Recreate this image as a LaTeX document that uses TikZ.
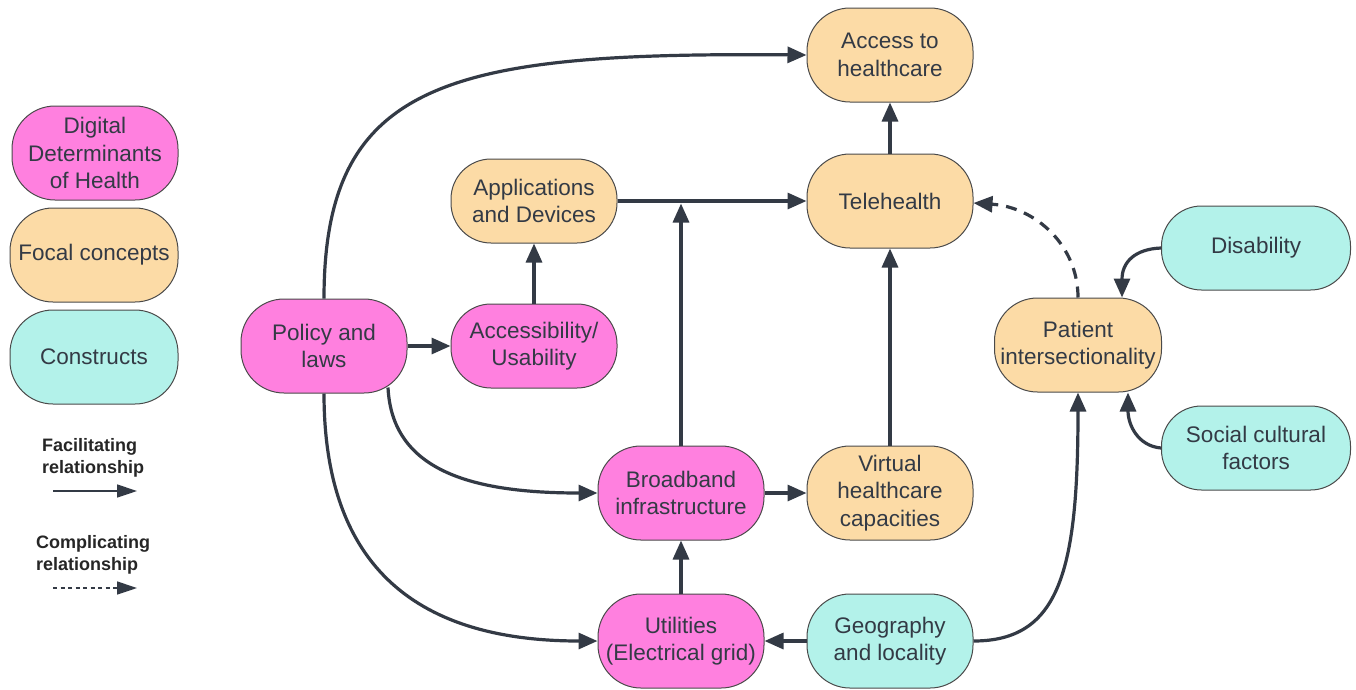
\documentclass[tikz,border=0pt]{standalone}
\usepackage{fontspec}
\setmainfont{Liberation Sans}
\usetikzlibrary{arrows.meta}
\definecolor{pinkf}{HTML}{FF80DF}
\definecolor{orangef}{HTML}{FCDBA6}
\definecolor{tealf}{HTML}{B3F2EA}
\definecolor{edgec}{HTML}{333A45}
\definecolor{txtc}{HTML}{333A45}
\definecolor{bordc}{HTML}{4A4A4A}
\begin{document}
\begin{tikzpicture}[x=1pt,y=-1pt,
  box/.style={draw=bordc, line width=1pt, rounded corners=43pt, minimum width=166pt,
    minimum height=94pt, align=center, text=txtc, inner sep=0pt,
    font=\fontsize{22.5}{27.5}\selectfont},
  lowbox/.style={box, minimum height=84pt, rounded corners=40pt},
  wide/.style={box, minimum width=189pt, minimum height=84pt, rounded corners=40pt},
  ddh/.style={fill=pinkf},
  foc/.style={fill=orangef},
  con/.style={fill=tealf},
  arr/.style={draw=edgec, line width=3.2pt, -{Triangle[length=19pt,width=16pt]}},
  darr/.style={arr, dash pattern=on 11pt off 8pt},
  legarr/.style={draw=edgec, line width=1.5pt, -{Triangle[length=20pt,width=13pt]}},
  legdarr/.style={legarr, dash pattern=on 4pt off 3.5pt},
  legtxt/.style={align=left, font=\bfseries\fontsize{18}{22.5}\selectfont, text=black!85, inner sep=0pt}
]
\fill[white] (0,0) rectangle (1356,689);
\useasboundingbox (0,0) rectangle (1356,689);

% legend
\node[box,ddh] (lddh) at (95,153) {Digital\\Determinants\\of Health};
\node[box,foc, minimum width=168pt] (lfoc) at (94,255) {Focal concepts};
\node[box,con, minimum width=168pt] (lcon) at (94,357) {Constructs};
\node[legtxt, anchor=west] (lfac) at (42,458) {Facilitating\\relationship};
\node[legtxt, anchor=west] (lcom) at (36,555) {Complicating\\relationship};
\coordinate (f1) at (53,491);
\coordinate (f2) at (137,491);
\coordinate (c1) at (53,588);
\coordinate (c2) at (137,588);
\draw[legarr] (f1) -- (f2);
\draw[legdarr] (c1) -- (c2);

% main nodes
\node[box,foc] (acc) at (890,55) {Access to\\healthcare};
\node[lowbox,foc] (app) at (534,201) {Applications\\and Devices};
\node[box,foc] (tel) at (890,201) {Telehealth};
\node[box,ddh] (pol) at (324,346) {Policy and\\laws};
\node[lowbox,ddh] (usa) at (534,346) {Accessibility/\\Usability};
\node[box,foc, minimum width=167pt] (pat) at (1078,345) {Patient\\intersectionality};
\node[wide,con] (dis) at (1256,248) {Disability};
\node[wide,con] (soc) at (1256,448) {Social cultural\\factors};
\node[box,ddh] (bb) at (681,493) {Broadband\\infrastructure};
\node[box,foc] (vir) at (890,493) {Virtual\\healthcare\\capacities};
\node[box,ddh] (uti) at (681,641) {Utilities\\(Electrical grid)};
\node[box,con] (geo) at (890,641) {Geography\\and locality};

% connectors
\coordinate (j) at (681,203.5);
\draw[arr] (pol.north) .. controls (324,80) and (450,52) .. (acc.west);
\draw[arr] (pol.east) -- (usa.west);
\draw[arr] (usa.north) -- (app.south);
\draw[arr] (app.east) -- (tel.west);
\draw[arr] (bb.north) -- (j);
\draw[arr] (tel.north) -- (acc.south);
\draw[arr] (vir.north) -- (tel.south);
\draw[arr] (bb.east) -- (vir.west);
\draw[arr] (uti.north) -- (bb.south);
\draw[arr] (geo.west) -- (uti.east);
\draw[arr] ([xshift=64pt,yshift=6pt]pol.south) .. controls (392,470) and (470,493) .. (bb.west);
\draw[arr] (pol.south) .. controls (324,570) and (420,641) .. (uti.west);
\draw[arr] (geo.east) .. controls (1060,641) and (1078,570) .. (pat.south);
\draw[arr] (dis.west) .. controls (1135,249) and (1122,262) .. ([xshift=44pt]pat.north);
\draw[arr] (soc.west) .. controls (1138,446) and (1128,425) .. ([xshift=50pt]pat.south);
\draw[darr] (pat.north) .. controls (1078,245) and (1035,207) .. ([yshift=-2pt]tel.east);
\end{tikzpicture}
\end{document}
